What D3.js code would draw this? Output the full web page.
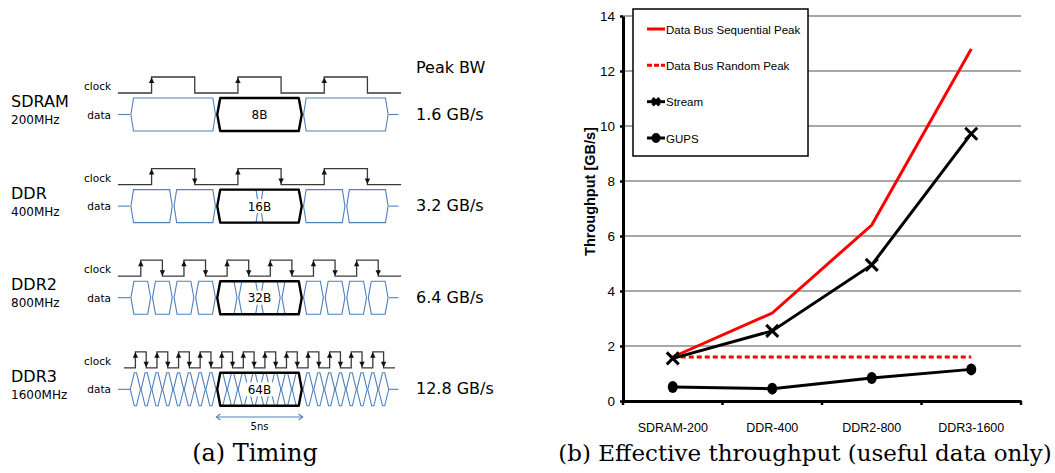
<!DOCTYPE html>
<html>
<head>
<meta charset="utf-8">
<script src="https://cdn.jsdelivr.net/npm/d3@7"></script>
<style>
  body { margin: 0; background: #fff; }
  svg { display: block; }
</style>
</head>
<body>
<div id="fig"></div>
<script>
// ---- panel (a) data ----
var memTypes = ['SDRAM', 'DDR', 'DDR2', 'DDR3'];
var memFreqs = ['200MHz', '400MHz', '800MHz', '1600MHz'];
var burstLabels = ['8B', '16B', '32B', '64B'];
var peakLabels = ['1.6 GB/s', '3.2 GB/s', '6.4 GB/s', '12.8 GB/s'];
var clockPeriodNs = [5, 5, 2.5, 1.25];
var beatsPerBurst = [1, 2, 4, 8];
var bothEdges = [false, true, true, true];

// ---- panel (b) data ----
var categories = ['SDRAM-200', 'DDR-400', 'DDR2-800', 'DDR3-1600'];
var seqPeak = [1.6, 3.2, 6.4, 12.8];
var randPeak = [1.6, 1.6, 1.6, 1.6];
var stream = [1.55, 2.55, 4.95, 9.72];
var gups = [0.51, 0.45, 0.84, 1.15];
var yTicks = [0, 2, 4, 6, 8, 10, 12, 14];
var legendNames = ['Data Bus Sequential Peak', 'Data Bus Random Peak', 'Stream', 'GUPS'];

var W = 1055, H = 473;
var svg = d3.select('#fig').append('svg').attr('width', W).attr('height', H);

var blue = '#4f81bd';
var leftFont = '"DejaVu Sans", Verdana, sans-serif';
var rightFont = '"Liberation Sans", Arial, sans-serif';
var capFont = '"DejaVu Serif", "Liberation Serif", serif';

// ================= panel (a) timing =================
function timing(){
    var t = d3.scaleLinear().domain([0, 15]).range([130, 389]);
    var g = svg.append('g').attr('id', 'timing');

    g.append('text').attr('x', 416).attr('y', 73)
        .style('font-family', leftFont).style('font-size', '16px').text('Peak BW');

    memTypes.forEach(function(name, i){
        var low = 93 + i * 91.6, high = low - 16;
        var top = low + 5, bot = low + 38, mid = (top + bot) / 2;
        var row = g.append('g');

        // labels
        row.append('text').attr('x', 11).attr('y', low + 14)
            .style('font-family', leftFont).style('font-size', '16px').text(name);
        row.append('text').attr('x', 11).attr('y', low + 31)
            .style('font-family', leftFont).style('font-size', '12px').text(memFreqs[i]);
        row.append('text').attr('x', 111).attr('y', low - 3).attr('text-anchor', 'end')
            .style('font-family', leftFont).style('font-size', '10.5px').text('clock');
        row.append('text').attr('x', 111).attr('y', mid + 4).attr('text-anchor', 'end')
            .style('font-family', leftFont).style('font-size', '10.5px').text('data');
        row.append('text').attr('x', 416).attr('y', mid + 5)
            .style('font-family', leftFont).style('font-size', '16px').text(peakLabels[i]);

        // clock waveform
        var T = clockPeriodNs[i];
        var lead = Math.min(0.7, T * 0.28);
        var edges = [];
        for (var k = 0; k * T < 15; k++){
            edges.push({t: k * T + T / 4, up: true});
            edges.push({t: k * T + 3 * T / 4, up: false});
        }
        var p = d3.path();
        p.moveTo(t(-lead), low);
        edges.forEach(function(e){
            var x = t(e.t);
            p.lineTo(x, e.up ? low : high);
            p.lineTo(x, e.up ? high : low);
        });
        p.lineTo(t(15 + lead), low);
        row.append('path').attr('d', p.toString())
            .attr('fill', 'none').attr('stroke', '#3a3a3a').attr('stroke-width', 1.3);

        edges.filter(function(e){ return e.up || bothEdges[i]; }).forEach(function(e){
            var x = t(e.t);
            var pts = e.up
                ? [[x, high + 0.5], [x - 2.7, high + 6], [x + 2.7, high + 6]]
                : [[x, low - 0.5], [x - 2.7, low - 6], [x + 2.7, low - 6]];
            row.append('polygon').attr('points', pts.join(' ')).attr('fill', '#111');
        });

        // data cells
        var n = beatsPerBurst[i] * 3, w = 15 / n;
        var cells = d3.range(n).map(function(k){ return [k * w, (k + 1) * w]; });
        function hex(a, b, bev, inset){
            var x0 = t(a) + inset, x1 = t(b) - inset;
            return [[x0, mid], [x0 + bev, top], [x1 - bev, top], [x1, mid], [x1 - bev, bot], [x0 + bev, bot]].join(' ');
        }
        var wpx = t(w) - t(0);
        var bev = wpx > 30 ? 2.6 : (wpx > 15 ? 3 : 4);
        row.append('line').attr('x1', t(-0.7)).attr('x2', t(0)).attr('y1', mid).attr('y2', mid)
            .attr('stroke', blue).attr('stroke-width', 1.1);
        row.append('line').attr('x1', t(15)).attr('x2', t(15.55)).attr('y1', mid).attr('y2', mid)
            .attr('stroke', blue).attr('stroke-width', 1.1);
        row.selectAll('polygon.cell').data(cells).enter().append('polygon')
            .attr('class', 'cell')
            .attr('points', function(d){ return hex(d[0], d[1], bev, wpx > 15 ? 0.9 : 0.3); })
            .attr('fill', 'none').attr('stroke', blue).attr('stroke-width', 1.1);

        // highlighted burst
        row.append('polygon').attr('points', hex(5, 10, 3, 0.9))
            .attr('fill', 'none').attr('stroke', '#000').attr('stroke-width', 2.4)
            .attr('stroke-linejoin', 'round');
        var lbl = row.append('text').attr('x', t(7.5)).attr('y', mid + 4.5).attr('text-anchor', 'middle')
            .style('font-family', leftFont).style('font-size', '12px').text(burstLabels[i]);
        var bb = lbl.node().getBBox();
        row.insert('rect', 'text:last-of-type')
            .attr('x', bb.x - 3).attr('y', mid - 7).attr('width', bb.width + 6).attr('height', 14)
            .attr('fill', '#fff');
        lbl.raise();
    });

    // 5ns marker
    var ay = 417;
    g.append('line').attr('x1', t(5)).attr('x2', t(10)).attr('y1', ay).attr('y2', ay)
        .attr('stroke', blue).attr('stroke-width', 1.1);
    [[t(5), 1], [t(10), -1]].forEach(function(a){
        g.append('polyline')
            .attr('points', [[a[0] + a[1] * 4, ay - 3], [a[0], ay], [a[0] + a[1] * 4, ay + 3]].join(' '))
            .attr('fill', 'none').attr('stroke', blue).attr('stroke-width', 1.1);
    });
    g.append('text').attr('x', t(7.5)).attr('y', 430).attr('text-anchor', 'middle')
        .style('font-family', leftFont).style('font-size', '10px').text('5ns');

    g.append('text').attr('x', 255).attr('y', 461).attr('text-anchor', 'middle')
        .style('font-family', capFont).style('font-size', '24px').text('(a) Timing');
}

// ================= panel (b) throughput =================
function throughput(){
    var x0 = 623, x1 = 1021, y0 = 401, y1 = 16;
    var x = d3.scaleBand().domain(categories).range([x0, x1]);
    var y = d3.scaleLinear().domain([0, 14]).range([y0, y1]);
    var g = svg.append('g').attr('id', 'throughput');

    // gridlines
    g.selectAll('line.grid').data(yTicks.filter(function(d){ return d > 0; })).enter().append('line')
        .attr('class', 'grid')
        .attr('x1', x0).attr('x2', x1).attr('y1', function(d){ return y(d); }).attr('y2', function(d){ return y(d); })
        .attr('stroke', '#8a8a8a').attr('stroke-width', 1.6);

    // y axis
    var ya = g.append('g').attr('transform', 'translate(' + x0 + ',0)')
        .call(d3.axisLeft(y).tickValues(yTicks).tickSize(3).tickSizeOuter(0).tickPadding(5));
    ya.select('.domain').attr('stroke', '#000').attr('stroke-width', 3);
    ya.selectAll('.tick line').attr('stroke', '#000').attr('stroke-width', 2.5);
    ya.selectAll('.tick text').style('font-family', rightFont).style('font-size', '13.5px').attr('fill', '#000');

    // x axis
    var xa = g.append('g').attr('transform', 'translate(0,' + y0 + ')')
        .call(d3.axisBottom(x).tickSize(0).tickSizeOuter(0).tickPadding(22));
    xa.select('.domain').attr('stroke', '#000').attr('stroke-width', 3);
    xa.selectAll('.tick text').style('font-family', rightFont).style('font-size', '12.5px').attr('fill', '#000');
    var bounds = categories.map(function(c){ return x(c); }).concat([x1]);
    g.selectAll('line.xt').data(bounds).enter().append('line').attr('class', 'xt')
        .attr('x1', function(d){ return d; }).attr('x2', function(d){ return d; })
        .attr('y1', y0).attr('y2', y0 + 4).attr('stroke', '#000').attr('stroke-width', 2.5);

    g.append('text')
        .attr('transform', 'translate(595,' + ((y0 + y1) / 2 - 17) + ') rotate(-90)')
        .attr('text-anchor', 'middle')
        .style('font-family', rightFont).style('font-size', '14.5px').style('font-weight', 'bold')
        .text('Throughput [GB/s]');

    var cx = function(d, i){ return x(categories[i]) + x.bandwidth() / 2; };
    var line = d3.line().x(cx).y(function(d){ return y(d); });

    g.append('path').datum(seqPeak).attr('d', line)
        .attr('fill', 'none').attr('stroke', '#ff0000').attr('stroke-width', 3);
    g.append('path').datum(randPeak).attr('d', line)
        .attr('fill', 'none').attr('stroke', '#ff0000').attr('stroke-width', 3).attr('stroke-dasharray', '5,3');
    g.append('path').datum(stream).attr('d', line)
        .attr('fill', 'none').attr('stroke', '#000').attr('stroke-width', 3);
    g.append('path').datum(gups).attr('d', line)
        .attr('fill', 'none').attr('stroke', '#000').attr('stroke-width', 3);

    function cross(sel, px, py, r, sw){
        sel.append('path')
            .attr('d', 'M' + (px - r) + ',' + (py - r) + 'L' + (px + r) + ',' + (py + r) +
                       'M' + (px - r) + ',' + (py + r) + 'L' + (px + r) + ',' + (py - r))
            .attr('stroke', '#000').attr('stroke-width', sw).attr('fill', 'none');
    }
    stream.forEach(function(v, i){ cross(g, cx(v, i), y(v), 6, 3); });
    g.selectAll('ellipse.gups').data(gups).enter().append('ellipse').attr('class', 'gups')
        .attr('cx', cx).attr('cy', function(d){ return y(d); })
        .attr('rx', 5).attr('ry', 6).attr('fill', '#000');

    // legend
    var lg = g.append('g');
    lg.append('rect').attr('x', 633).attr('y', 9).attr('width', 175).attr('height', 147)
        .attr('fill', '#fff').attr('stroke', '#000').attr('stroke-width', 1.5);
    var ly = d3.scalePoint().domain(legendNames).range([29, 138]);
    legendNames.forEach(function(name, i){
        var yy = ly(name);
        var l = lg.append('line').attr('x1', 647).attr('x2', 665).attr('y1', yy).attr('y2', yy)
            .attr('stroke', i < 2 ? '#ff0000' : '#000').attr('stroke-width', 3);
        if (i == 1) l.attr('stroke-dasharray', '5,2');
        if (i == 2) cross(lg, 656, yy, 3.5, 3.5);
        if (i == 3) lg.append('ellipse').attr('cx', 656).attr('cy', yy).attr('rx', 4.5).attr('ry', 5).attr('fill', '#000');
        lg.append('text').attr('x', 666).attr('y', yy + 4.5)
            .style('font-family', rightFont).style('font-size', '11.5px').text(name);
    });

    g.append('text').attr('x', 805).attr('y', 461).attr('text-anchor', 'middle')
        .style('font-family', capFont).style('font-size', '23px')
        .text('(b) Effective throughput (useful data only)');
}

timing();
throughput();
</script>
</body>
</html>
